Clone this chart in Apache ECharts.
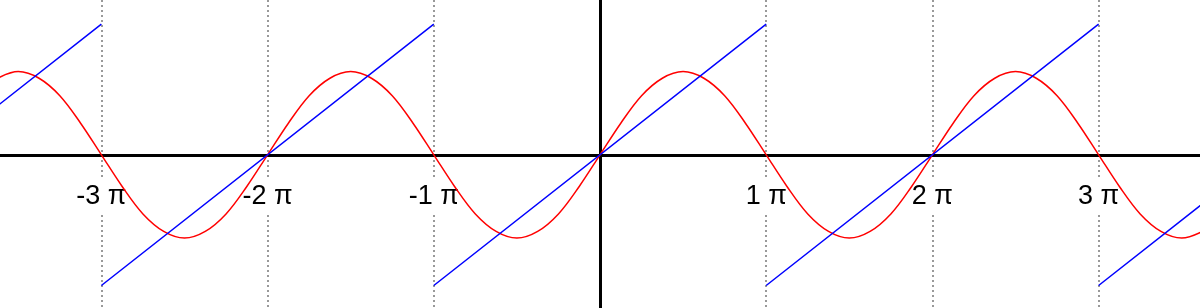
<!DOCTYPE html>
<html>
<head>
<meta charset="utf-8">
<script src="https://cdn.jsdelivr.net/npm/echarts@6/dist/echarts.min.js"></script>
<style>
html,body{margin:0;padding:0;background:#fff;}
#chart{width:1200px;height:308px;}
</style>
</head>
<body>
<div id="chart"></div>
<script>
// x values in units of π
const sineX = [-3.625,-3.5,-3.375,-3.25,-3.125,-3,-2.875,-2.75,-2.625,-2.5,-2.375,-2.25,-2.125,
  -2,-1.875,-1.75,-1.625,-1.5,-1.375,-1.25,-1.125,-1,-0.875,-0.75,-0.625,-0.5,-0.375,-0.25,-0.125,
  0,0.125,0.25,0.375,0.5,0.625,0.75,0.875,1,1.125,1.25,1.375,1.5,1.625,1.75,1.875,
  2,2.125,2.25,2.375,2.5,2.625,2.75,2.875,3,3.125,3.25,3.375,3.5,3.625];
const sineY = [0.92,1,0.92,0.71,0.38,0,-0.38,-0.71,-0.92,-1,-0.92,-0.71,-0.38,
  0,0.38,0.71,0.92,1,0.92,0.71,0.38,0,-0.38,-0.71,-0.92,-1,-0.92,-0.71,-0.38,
  0,0.38,0.71,0.92,1,0.92,0.71,0.38,0,-0.38,-0.71,-0.92,-1,-0.92,-0.71,-0.38,
  0,0.38,0.71,0.92,1,0.92,0.71,0.38,0,-0.38,-0.71,-0.92,-1,-0.92];
// sawtooth segments (x in units of π)
const sawStartX = [-5,-3,-1,1,3];
const sawEndX   = [-3,-1,1,3,5];
const sawStartY = [-1.57,-1.57,-1.57,-1.57,-1.57];
const sawEndY   = [1.57,1.57,1.57,1.57,1.57];
const tickValues = [-3,-2,-1,1,2,3];
const tickLabels = ['-3 π','-2 π','-1 π','1 π','2 π','3 π'];

const xMin = -3.61, xMax = 3.61, yMin = -1.84, yMax = 1.86;

const sineData = sineX.map((x,i)=>[x, sineY[i]]);
const sawData = [];
sawStartX.forEach((x,i)=>{
  if (i>0) sawData.push([x,'-']);
  sawData.push([x, sawStartY[i]]);
  sawData.push([sawEndX[i], sawEndY[i]]);
});

const chart = echarts.init(document.getElementById('chart'), null, {renderer:'canvas'});
chart.setOption({
  animation:false,
  backgroundColor:'#fff',
  grid:{left:0,right:0,top:0,bottom:0,containLabel:false,outerBoundsMode:'none'},
  xAxis:[{
    type:'value', min:xMin, max:xMax, z:0,
    axisLine:{show:true,onZero:true,lineStyle:{color:'#000',width:3}},
    axisTick:{show:false,customValues:tickValues},
    axisLabel:{show:false,customValues:tickValues},
    splitLine:{show:true,lineStyle:{color:'#999999',width:2,type:[2,3]}}
  },{
    type:'value', min:xMin, max:xMax, z:1, position:'bottom', offset:-153,
    axisLine:{show:false,onZero:false},
    axisTick:{show:false,customValues:tickValues},
    splitLine:{show:false},
    axisLabel:{show:true,customValues:tickValues,hideOverlap:false,
      formatter:(v)=>tickLabels[tickValues.indexOf(v)] || '',
      fontFamily:'Liberation Sans',fontSize:27,color:'#000',
      backgroundColor:'#fff',padding:[4,3],lineHeight:28,margin:24}
  }],
  yAxis:{
    type:'value', min:yMin, max:yMax,
    axisLine:{show:true,onZero:true,lineStyle:{color:'#000',width:3}},
    axisTick:{show:false},axisLabel:{show:false},splitLine:{show:false}
  },
  series:[{
    type:'line', xAxisIndex:0, data:sineData, smooth:0.35, showSymbol:false,
    lineStyle:{color:'#ff0000',width:1.5}, clip:true
  },{
    type:'line', xAxisIndex:0, data:sawData, showSymbol:false, connectNulls:false,
    lineStyle:{color:'#0000ff',width:1.5}, clip:true
  }]
});
</script>
</body>
</html>
